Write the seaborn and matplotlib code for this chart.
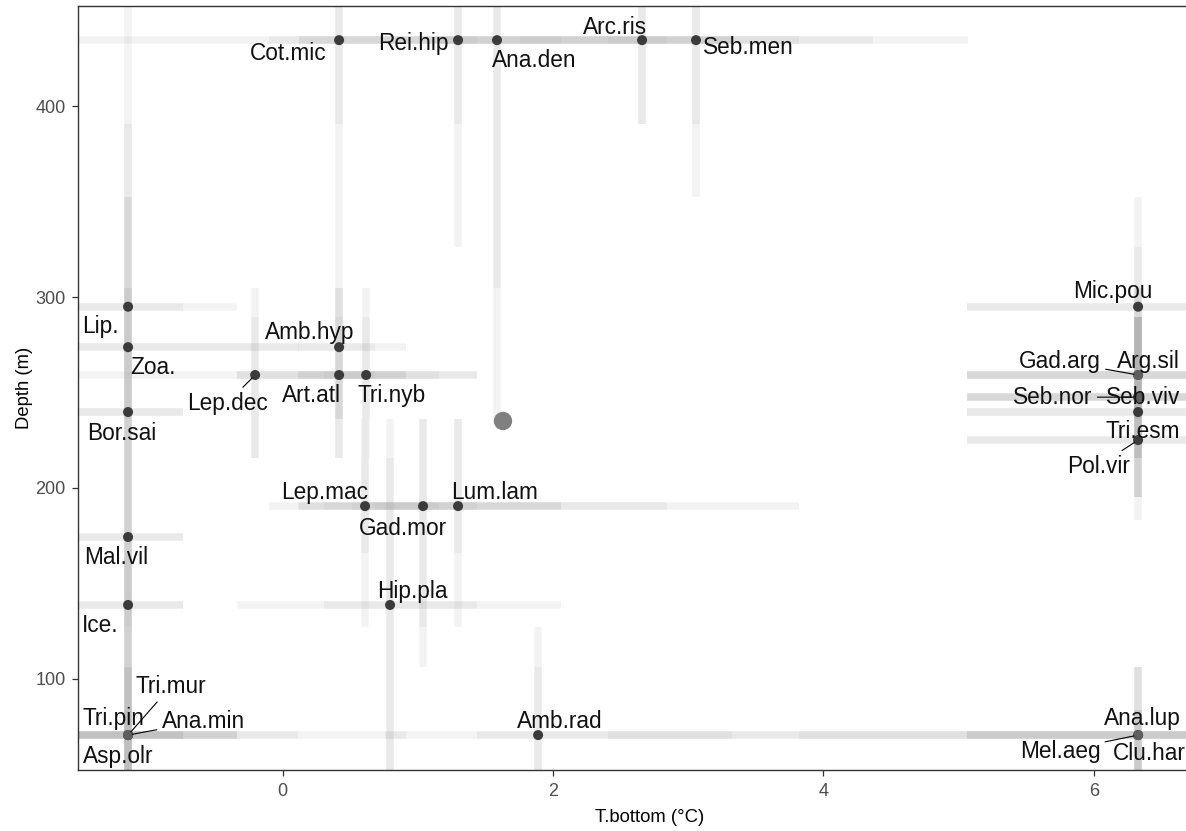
import numpy as np
import pandas as pd
import matplotlib.pyplot as plt
import seaborn as sns

# Datos: especies, temperatura de fondo y profundidad
species = ["Cot.mic", "Rei.hip", "Ana.den", "Arc.ris", "Seb.men",
           "Lip.", "Zoa.", "Bor.sai", "Mal.vil", "Ice.",
           "Asp.olr", "Tri.pin", "Tri.mur", "Ana.min",
           "Amb.hyp", "Lep.dec", "Art.atl", "Tri.nyb",
           "Lep.mac", "Gad.mor", "Lum.lam", "Hip.pla", "Amb.rad",
           "Mic.pou", "Gad.arg", "Arg.sil", "Seb.nor", "Seb.viv",
           "Tri.esm", "Pol.vir", "Ana.lup", "Mel.aeg", "Clu.har"]
t_bottom = [0.418, 1.298, 1.586, 2.659, 3.058,
            -1.143, -1.143, -1.143, -1.143, -1.143,
            -1.143, -1.143, -1.143, -1.143,
            0.418, -0.203, 0.418, 0.618,
            0.610, 1.039, 1.298, 0.795, 1.890,
            6.328, 6.328, 6.328, 6.328, 6.328,
            6.328, 6.328, 6.328, 6.328, 6.328]
depth = [434.7, 434.7, 434.7, 434.7, 434.7,
         295.0, 273.8, 239.8, 174.3, 138.7,
         70.5, 70.5, 70.5, 70.5,
         273.8, 259.2, 259.2, 259.2,
         190.5, 190.5, 190.5, 138.7, 70.5,
         295.0, 259.2, 259.2, 247.6, 247.6,
         239.8, 225.1, 70.5, 70.5, 70.5]

# Rangos de temperatura (interior y exterior)
t_in_lo = [0.122, 0.913, 1.158, 1.757, 2.407,
           -1.513, -1.513, -1.513, -1.513, -1.513,
           -1.513, -1.513, -1.513, -1.513,
           0.115, -0.337, 0.115, 0.307,
           0.307, 0.514, 0.684, 0.307, 1.440,
           5.063, 5.063, 5.063, 5.063, 5.063,
           5.063, 5.063, 5.063, 5.063, 5.063]
t_in_hi = [0.913, 1.757, 2.060, 3.324, 3.324,
           -0.736, -0.337, -0.736, -0.736, -0.736,
           -0.736, -0.736, -0.736, -0.337,
           0.684, 0.684, 0.913, 0.913,
           1.158, 1.440, 2.060, 1.440, 3.324,
           6.949, 6.949, 6.949, 6.949, 6.949,
           6.949, 6.949, 6.949, 6.949, 6.949]
t_out_lo = [-1.513, -0.100, 0.122, 1.158, 1.757,
            -1.513, -1.513, -1.513, -1.513, -1.513,
            -1.513, -1.513, -1.513, -1.513,
            -0.337, -1.513, -0.337, 0.115,
            -0.100, 0.122, 0.115, -0.337, 0.758,
            5.063, 5.063, 5.063, 5.063, 5.063,
            5.063, 5.063, 3.820, 4.367, 2.407]
t_out_hi = [1.440, 2.844, 3.820, 4.367, 5.070,
            -0.337, 0.122, -0.736, -0.736, -0.736,
            -0.337, -0.337, 0.913, 0.115,
            0.913, 1.440, 1.158, 1.440,
            2.060, 2.844, 3.820, 2.060, 4.367,
            6.949, 6.949, 6.949, 6.949, 6.949,
            6.949, 6.949, 6.949, 6.949, 6.949]

# Rangos de profundidad (interior y exterior)
d_in_lo = [390.7, 390.7, 304.8, 390.7, 390.7,
           289.6, 236.0, 183.2, 127.2, 83.8,
           52.2, 52.2, 52.2, 52.2,
           236.0, 215.7, 236.0, 236.0,
           166.0, 127.2, 166.0, 52.2, 52.2,
           289.6, 236.0, 236.0, 215.7, 236.0,
           215.7, 195.3, 52.2, 52.2, 52.2]
d_in_hi = [452.6, 452.6, 452.6, 452.6, 452.6,
           352.4, 304.8, 289.6, 215.7, 183.2,
           106.4, 83.8, 83.8, 83.8,
           304.8, 289.6, 289.6, 289.6,
           215.7, 236.0, 236.0, 215.7, 106.4,
           326.3, 289.6, 289.6, 289.6, 289.6,
           289.6, 236.0, 83.8, 83.8, 83.8]
d_out_lo = [326.3, 326.3, 236.0, 390.7, 352.4,
            236.0, 215.7, 127.2, 83.8, 52.2,
            52.2, 52.2, 52.2, 52.2,
            215.7, 215.7, 215.7, 215.7,
            127.2, 106.4, 127.2, 52.2, 52.2,
            236.0, 215.7, 195.3, 195.3, 215.7,
            195.3, 183.2, 52.2, 52.2, 52.2]
d_out_hi = [452.6, 452.6, 452.6, 452.6, 452.6,
            452.6, 390.7, 352.4, 304.8, 236.0,
            166.0, 127.2, 106.4, 106.4,
            326.3, 304.8, 304.8, 304.8,
            236.0, 236.0, 236.0, 236.0, 127.2,
            352.4, 304.8, 289.6, 304.8, 289.6,
            289.6, 289.6, 106.4, 106.4, 106.4]

# Centroide de la comunidad
centroid_t = 1.630
centroid_d = 235.1

x_ticks = [0, 2, 4, 6]
y_ticks = [100, 200, 300, 400]

# Posición de las etiquetas (desplazamiento en píxeles, con o sin segmento)
label_offsets = {
    "Cot.mic": (-51, 13, False), "Rei.hip": (-45, 3, False),
    "Ana.den": (37, 20, False), "Arc.ris": (-27, -13, False),
    "Seb.men": (52, 7, False), "Lip.": (-28, 20, False),
    "Zoa.": (25, 20, False), "Bor.sai": (-6, 21, False),
    "Mal.vil": (-12, 20, False), "Ice.": (-28, 21, False),
    "Asp.olr": (-10, 21, False), "Tri.pin": (-15, -17, False),
    "Tri.mur": (43, -49, True), "Ana.min": (75, -14, True),
    "Amb.hyp": (-29, -15, False), "Lep.dec": (-28, 28, True),
    "Art.atl": (-28, 20, False), "Tri.nyb": (25, 20, False),
    "Lep.mac": (-40, -14, False), "Gad.mor": (-20, 22, False),
    "Lum.lam": (36, -14, False), "Hip.pla": (22, -13, False),
    "Amb.rad": (22, -14, False), "Mic.pou": (-25, -15, False),
    "Gad.arg": (-78, -14, True), "Arg.sil": (10, -14, False),
    "Seb.nor": (-85, 0, True), "Seb.viv": (5, 0, False),
    "Tri.esm": (5, 19, False), "Pol.vir": (-40, 26, True),
    "Ana.lup": (4, -17, False), "Mel.aeg": (-78, 16, True),
    "Clu.har": (11, 18, False),
}

df = pd.DataFrame({"species": species, "T.bottom": t_bottom, "Depth": depth})
df["n_same"] = df.groupby(["T.bottom", "Depth"])["species"].transform("count")

sns.set_theme(style="white")
plt.rcParams["font.family"] = ["Liberation Sans", "DejaVu Sans"]

fig = plt.figure(figsize=(11.86, 8.31), dpi=100)
# el panel sigue más allá del borde derecho de la imagen (recortado)
ax = fig.add_axes([0.0658, 0.0734, 0.9646, 0.9194])

band_col = "#a8a8a8"
band_alpha = 0.13
band_lw = 5.4
for lo, hi in [(t_out_lo, t_out_hi), (t_in_lo, t_in_hi)]:
    lc = ax.hlines(depth, lo, hi, colors=band_col, alpha=band_alpha, lw=band_lw, zorder=2)
    lc.set_capstyle("butt")
for lo, hi in [(d_out_lo, d_out_hi), (d_in_lo, d_in_hi)]:
    lc = ax.vlines(t_bottom, lo, hi, colors=band_col, alpha=band_alpha, lw=band_lw, zorder=2)
    lc.set_capstyle("butt")

# Puntos de especies
point_cols = np.where(df["n_same"] > 1, "#5e5e5e", "#3b3b3b")
sns.scatterplot(data=df, x="T.bottom", y="Depth", ax=ax, s=52,
                c=point_cols, edgecolor="none", linewidth=0, zorder=4, legend=False)

# Centroide
ax.scatter([centroid_t], [centroid_d], s=175, color="#808080", edgecolor="none", zorder=4)

# Etiquetas
px2pt = 0.72
for name, x, y in zip(species, t_bottom, depth):
    dx, dy, seg = label_offsets[name]
    arrow = dict(arrowstyle="-", color="black", lw=0.8, shrinkA=1, shrinkB=3) if seg else None
    ax.annotate(name, xy=(x, y), xytext=(dx * px2pt, -dy * px2pt),
                textcoords="offset points", ha="center", va="center",
                fontsize=16.3, color="#111111", arrowprops=arrow, zorder=5)

ax.set_xlim(-1.513, 6.949)
ax.set_ylim(52.2, 452.6)
ax.set_xticks(x_ticks)
ax.set_yticks(y_ticks)
ax.set_xlabel("T.bottom (°C)", fontsize=13.3, color="black", labelpad=7)
ax.set_ylabel("Depth (m)", fontsize=13.3, color="black", labelpad=2)
ax.tick_params(axis="both", which="both", direction="out", length=4.5, width=0.9,
               color="#333333", labelcolor="#4d4d4d", labelsize=13, pad=4.5,
               bottom=True, left=True)
for sp in ax.spines.values():
    sp.set_color("#333333")
    sp.set_linewidth(1.0)
ax.grid(False)

fig.savefig("out.png", dpi=100)
